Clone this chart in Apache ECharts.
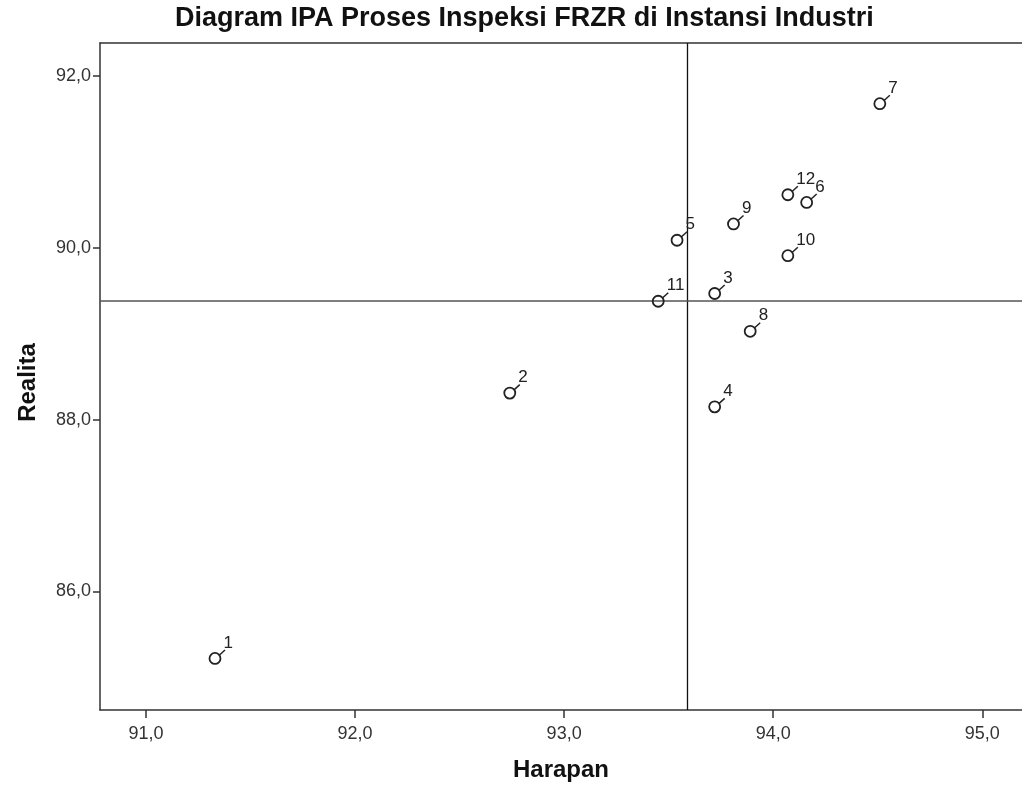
<!DOCTYPE html>
<html>
<head>
<meta charset="utf-8">
<title>Diagram IPA</title>
<script src="https://cdn.jsdelivr.net/npm/echarts@6/dist/echarts.min.js"></script>
<style>
  html, body { margin: 0; padding: 0; background: #fff; }
  #main { width: 1022px; height: 787px; }
</style>
</head>
<body>
<div id="main"></div>
<script>
// nomor atribut, harapan (x) dan realita (y)
var labels   = ['1', '2', '3', '4', '5', '6', '7', '8', '9', '10', '11', '12'];
var harapan  = [91.33, 92.74, 93.72, 93.72, 93.54, 94.16, 94.51, 93.89, 93.81, 94.07, 93.45, 94.07];
var realita  = [85.22, 88.31, 89.47, 88.15, 90.09, 90.53, 91.68, 89.03, 90.28, 89.91, 89.38, 90.62];
// garis rata-rata (kuadran)
var meanHarapan = 93.59;
var meanRealita = 89.39;
var xTicks = [91, 92, 93, 94, 95];
var yTicks = [86, 88, 90, 92];

var points = harapan.map(function (h, i) {
    return [h, realita[i]];
});

function koma(v) {
    return v.toFixed(1).replace('.', ',');
}

var font = 'Liberation Sans, Arial, sans-serif';
var myChart = echarts.init(document.getElementById('main'));

var option = {
    backgroundColor: '#fff',
    animation: false,
    title: {
        text: 'Diagram IPA Proses Inspeksi FRZR di Instansi Industri',
        left: 170,
        top: 0,
        textStyle: { fontFamily: font, fontSize: 27, fontWeight: 'bold', color: '#111' }
    },
    grid: {
        left: 100,
        top: 43,
        right: 0,
        bottom: 76
    },
    xAxis: [{
        type: 'value',
        min: 90.78,
        max: 95.19,
        name: 'Harapan',
        nameLocation: 'middle',
        nameGap: 48,
        nameTextStyle: { fontFamily: font, fontSize: 24, fontWeight: 'bold', color: '#111' },
        splitLine: { show: false },
        axisLine: { show: true, onZero: false, lineStyle: { color: '#333', width: 1.5 } },
        axisTick: { show: true, length: 8, customValues: xTicks, lineStyle: { color: '#333', width: 1.5 } },
        axisLabel: {
            customValues: xTicks,
            formatter: koma,
            margin: 15,
            fontFamily: font,
            fontSize: 18,
            color: '#333'
        }
    }, {
        // garis tepi atas
        type: 'value',
        position: 'top',
        min: 90.78,
        max: 95.19,
        splitLine: { show: false },
        axisLine: { show: true, onZero: false, lineStyle: { color: '#333', width: 1.5 } },
        axisTick: { show: false },
        axisLabel: { show: false }
    }],
    yAxis: {
        type: 'value',
        min: 84.62,
        max: 92.387,
        name: 'Realita',
        nameLocation: 'middle',
        nameGap: 60,
        nameTextStyle: { fontFamily: font, fontSize: 24, fontWeight: 'bold', color: '#111', padding: [0, 12, 0, 0] },
        splitLine: { show: false },
        axisLine: { show: true, onZero: false, lineStyle: { color: '#333', width: 1.5 } },
        axisTick: { show: true, length: 7, customValues: yTicks, lineStyle: { color: '#333', width: 1.5 } },
        axisLabel: {
            customValues: yTicks,
            formatter: koma,
            margin: 9,
            fontFamily: font,
            fontSize: 18,
            color: '#333'
        }
    },
    series: [{
        // hanya untuk garis rata-rata
        type: 'scatter',
        data: points,
        symbolSize: 0,
        silent: true,
        markLine: {
            silent: true,
            symbol: ['none', 'none'],
            label: { show: false },
            data: [
                { xAxis: meanHarapan, lineStyle: { color: '#111', width: 1.3, type: 'solid' } },
                { yAxis: meanRealita, lineStyle: { color: '#555', width: 1.7, type: 'solid' } }
            ]
        }
    }, {
        type: 'custom',
        data: points,
        z: 5,
        renderItem: function (params, api) {
            var p = api.coord([api.value(0), api.value(1)]);
            return {
                type: 'group',
                children: [{
                    type: 'circle',
                    shape: { cx: p[0], cy: p[1], r: 5.5 },
                    style: { fill: 'none', stroke: '#222', lineWidth: 1.8 }
                }, {
                    type: 'line',
                    shape: { x1: p[0] + 4.5, y1: p[1] - 3.5, x2: p[0] + 10, y2: p[1] - 8.5 },
                    style: { stroke: '#222', lineWidth: 1.5 }
                }, {
                    type: 'text',
                    style: {
                        text: labels[params.dataIndex],
                        x: p[0] + 8.5,
                        y: p[1] - 7,
                        align: 'left',
                        verticalAlign: 'bottom',
                        font: '17px ' + font,
                        fill: '#222'
                    }
                }]
            };
        }
    }]
};

myChart.setOption(option);
</script>
</body>
</html>
